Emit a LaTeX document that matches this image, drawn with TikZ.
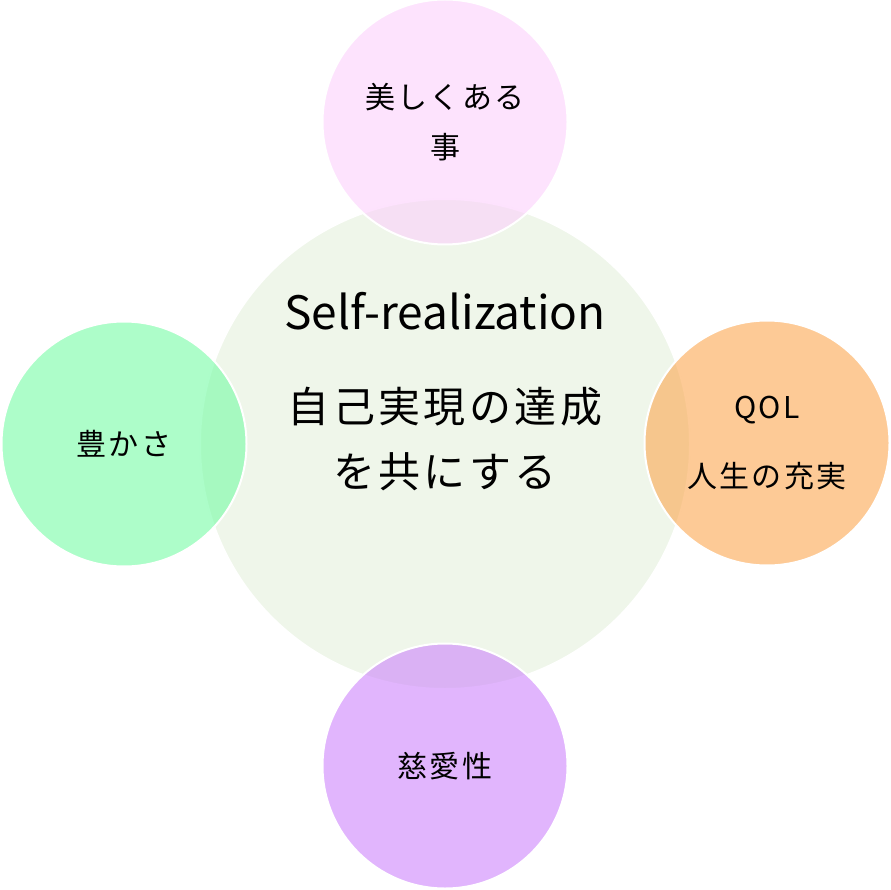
\documentclass[tikz,border=0pt]{standalone}
\usepackage{fontspec}
\setmainfont{Noto Sans CJK JP}
\newfontfamily\jpwide[LetterSpace=8]{Noto Sans CJK JP}
\definecolor{selfgreen}{HTML}{EFF6EA}
\definecolor{beautypink}{HTML}{FCD0FC}
\definecolor{richgreen}{HTML}{76FCA5}
\definecolor{qolorange}{HTML}{FCA750}
\definecolor{lovepurple}{HTML}{CD84FC}
\newcommand\bigjp{\jpwide\fontsize{42}{65}\selectfont}
\newcommand\smalljp{\jpwide\fontsize{30}{50}\selectfont}
\begin{document}
\begin{tikzpicture}[x=1pt, y=-1pt,
  bubble/.style={circle, draw=white, line width=2pt, minimum size=245pt,
    inner sep=0pt, align=center, fill opacity=0.6, text opacity=1, font=\smalljp}]
  \useasboundingbox (0,0) rectangle (891,890);

  % Centre: self-realization
  \node[circle, draw=white, line width=2pt, fill=selfgreen, minimum size=490pt] (self) at (445,444) {};
  \node[align=center, font=\bigjp] (selftext) at (445,392)
    {{\fontspec{Noto Sans CJK JP}\fontsize{46}{46}\selectfont Self-realization}\\[28pt]
     自己実現の達成\\を共にする};

  % Four surrounding values
  \node[bubble, fill=beautypink] (beauty) at (445,122) {美しくある\\事};
  \node[bubble, fill=richgreen] (rich) at (124,444) {豊かさ};
  \node[bubble, fill=qolorange, font=\jpwide\fontsize{30}{69}\selectfont] (qol) at (767,443) {QOL\\人生の充実};
  \node[bubble, fill=lovepurple] (love) at (445,766) {慈愛性};
\end{tikzpicture}
\end{document}
